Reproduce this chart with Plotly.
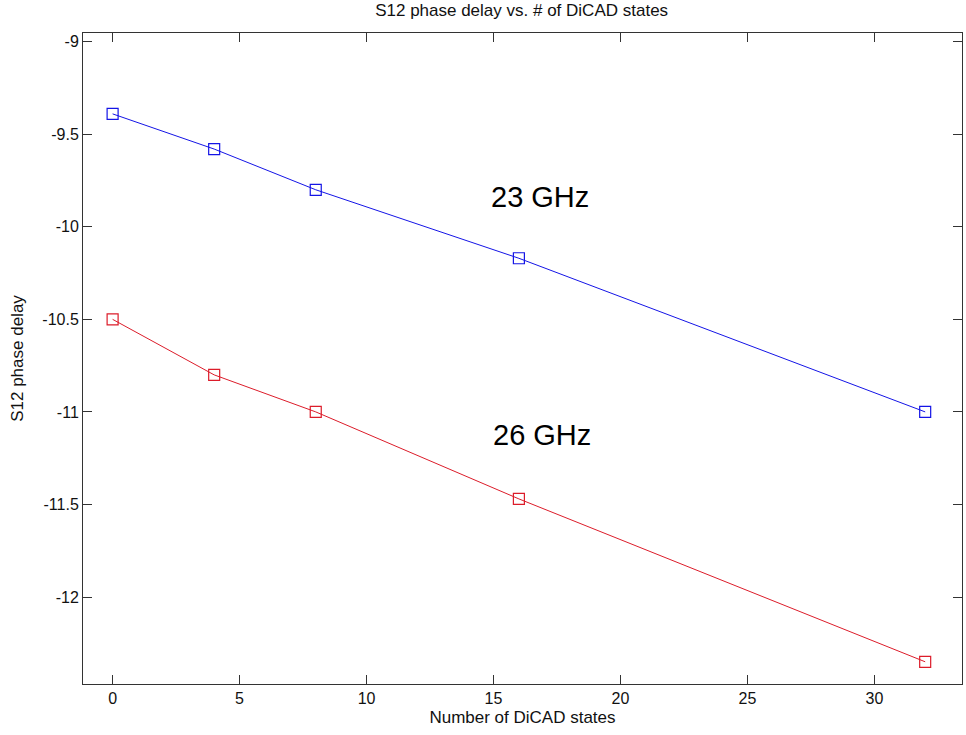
import plotly.graph_objects as go

states = [0, 4, 8, 16, 32]
delay_23ghz = [-9.39, -9.58, -9.80, -10.17, -11.0]
delay_26ghz = [-10.5, -10.80, -11.0, -11.47, -12.35]
x_ticks = [0, 5, 10, 15, 20, 25, 30]
y_ticks = [-9, -9.5, -10, -10.5, -11, -11.5, -12]

FONT = "Liberation Sans, Arial, sans-serif"
BLUE = "#1414e6"
RED = "#dc1c2a"

fig = go.Figure()
fig.add_trace(go.Scatter(x=states, y=delay_23ghz, mode="lines+markers",
                         line=dict(color=BLUE, width=1),
                         marker=dict(symbol="square-open", size=11, color=BLUE, line=dict(width=1.2)),
                         name="23 GHz", showlegend=False))
fig.add_trace(go.Scatter(x=states, y=delay_26ghz, mode="lines+markers",
                         line=dict(color=RED, width=1),
                         marker=dict(symbol="square-open", size=11, color=RED, line=dict(width=1.2)),
                         name="26 GHz", showlegend=False))

fig.add_annotation(x=16.85, y=-9.838, text="23 GHz", showarrow=False,
                   font=dict(family=FONT, size=29, color="black"))
fig.add_annotation(x=16.91, y=-11.124, text="26 GHz", showarrow=False,
                   font=dict(family=FONT, size=29, color="black"))

axis_common = dict(showline=True, linecolor="#333333", linewidth=1, mirror="ticks",
                   ticks="inside", ticklen=9, tickcolor="#333333", showgrid=False,
                   zeroline=False, automargin=False,
                   tickfont=dict(family=FONT, size=16, color="#111111"))

fig.update_xaxes(range=[-1.166, 33.45], tickvals=x_ticks, ticktext=[str(v) for v in x_ticks],
                 title=dict(text="Number of DiCAD states", standoff=4,
                            font=dict(family=FONT, size=17, color="#111111")),
                 **axis_common)
fig.update_yaxes(range=[-12.47, -8.953], tickvals=y_ticks, ticktext=[f"{v:g}" for v in y_ticks],
                 title=dict(text="S12 phase delay", standoff=14,
                            font=dict(family=FONT, size=17, color="#111111")),
                 **axis_common)

fig.update_layout(
    width=966, height=735,
    margin=dict(l=83, r=4, t=33, b=51),
    paper_bgcolor="white", plot_bgcolor="white",
    title=dict(text="S12 phase delay vs. # of DiCAD states", x=0.54, xanchor="center",
               y=0.994, yanchor="top", yref="container", pad=dict(t=0, b=0),
               font=dict(family=FONT, size=17, color="#111111")),
)

fig.write_html("out.html", config={"displayModeBar": False},
               post_script="document.body.style.margin='0';")
